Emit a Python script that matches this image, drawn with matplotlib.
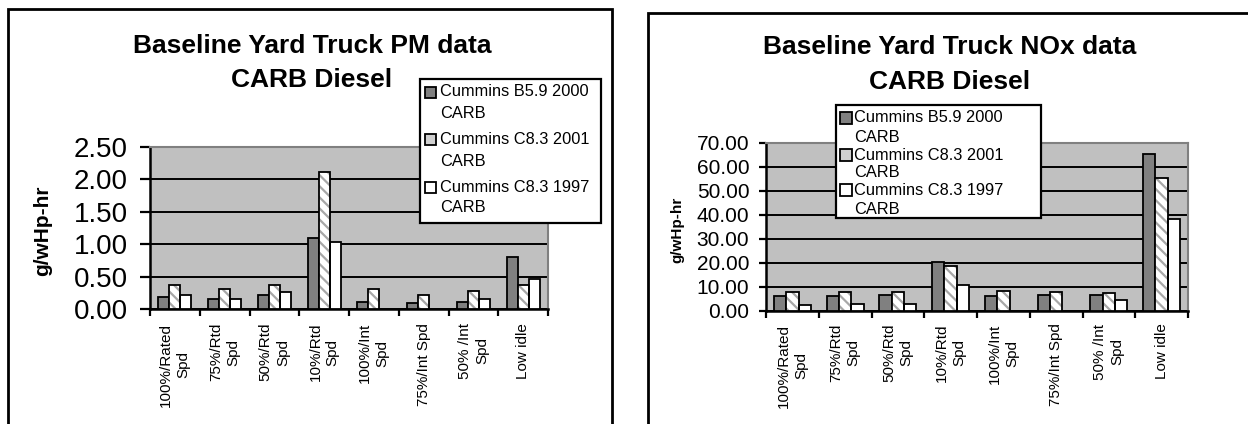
import matplotlib.pyplot as plt
import numpy as np
from matplotlib.patches import Rectangle

plt.rcParams['font.family'] = ['Liberation Sans', 'DejaVu Sans']
plt.rcParams['hatch.linewidth'] = 1.6

# ~~~~~~~~~~~~~~
# DATA
# ~~~~~~~~~~~~~~
categories = ['100%/Rated\nSpd', '75%/Rtd\nSpd', '50%/Rtd\nSpd', '10%/Rtd\nSpd',
              '100%/Int\nSpd', '75%/Int Spd', '50% /Int\nSpd', 'Low idle']
series = ['Cummins B5.9 2000', 'Cummins C8.3 2001', 'Cummins C8.3 1997']
series_line2 = 'CARB'

pm_b59_2000 = [0.19, 0.15, 0.21, 1.10, 0.11, 0.09, 0.11, 0.81]
pm_c83_2001 = [0.37, 0.31, 0.37, 2.12, 0.31, 0.22, 0.28, 0.37]
pm_c83_1997 = [0.21, 0.16, 0.27, 1.04, np.nan, np.nan, 0.16, 0.46]

nox_b59_2000 = [6.4, 6.4, 6.7, 20.6, 6.4, 6.7, 6.7, 65.6]
nox_c83_2001 = [7.9, 7.9, 7.9, 18.9, 8.3, 7.9, 7.5, 55.4]
nox_c83_1997 = [2.5, 3.1, 3.1, 11.0, np.nan, np.nan, 4.7, 38.3]

key_colors = ['#808080', '#D0D0D0', 'white']

W, H = 1248, 424


def px(x0, y0, x1, y1):
    # pixel box (top-left origin) -> figure fraction rect
    return [x0 / W, 1 - y1 / H, (x1 - x0) / W, (y1 - y0) / H]


def draw_chart(ax, a, b, c, ymax, ystep, w, tick_fs, ytick_len, xlab_pad, ylab_pad):
    x = np.arange(len(categories))
    ax.set_facecolor('#C0C0C0')
    ax.bar(x - w, a, w, color='#808080', edgecolor='black', lw=1.3, zorder=3)
    ax.bar(x, b, w, facecolor='white', edgecolor='#A8A8A8', hatch='\\\\\\', lw=0, zorder=3)
    ax.bar(x, b, w, fill=False, edgecolor='black', lw=1.3, zorder=4)
    ax.bar(x + w, c, w, color='white', edgecolor='black', lw=1.3, zorder=3)

    ax.set_xlim(-0.5, len(categories) - 0.5)
    ax.set_ylim(0, ymax)
    yt = np.arange(0, ymax + ystep / 2, ystep)
    ax.set_yticks(yt)
    ax.set_yticklabels(['%.2f' % v for v in yt], fontsize=tick_fs)
    ax.yaxis.grid(True, color='black', lw=1.4)
    ax.set_axisbelow(True)

    ax.set_xticks(x)
    ax.set_xticklabels(categories, rotation=90, va='top', ha='center',
                       multialignment='center', fontsize=11, linespacing=1.3)
    ax.set_xticks(np.arange(-0.5, len(categories), 1), minor=True)
    ax.tick_params(axis='x', which='major', length=0, pad=xlab_pad)
    ax.tick_params(axis='x', which='minor', length=5, width=1.6, direction='out')
    ax.tick_params(axis='y', length=ytick_len, width=1.6, direction='out', pad=ylab_pad)

    for s in ['top', 'right']:
        ax.spines[s].set_color('#808080')
        ax.spines[s].set_linewidth(1.5)
    for s in ['left', 'bottom']:
        ax.spines[s].set_color('black')
        ax.spines[s].set_linewidth(1.8)


def add_legend(fig, box, key_x, key_size, text_x, line_ys, fs):
    x0, y0, x1, y1 = box
    fig.add_artist(Rectangle((x0 / W, 1 - y1 / H), (x1 - x0) / W, (y1 - y0) / H,
                             transform=fig.transFigure, facecolor='white',
                             edgecolor='black', lw=1.6, zorder=2))
    for i, name in enumerate(series):
        y_a = line_ys[2 * i]
        y_b = line_ys[2 * i + 1]
        fig.add_artist(Rectangle((key_x / W, 1 - (y_a + key_size / 2) / H),
                                 key_size / W, key_size / H, transform=fig.transFigure,
                                 facecolor=key_colors[i], edgecolor='black', lw=1.3, zorder=3))
        fig.text(text_x / W, 1 - y_a / H, name, ha='left', va='center', fontsize=fs, zorder=3)
        fig.text(text_x / W, 1 - y_b / H, series_line2, ha='left', va='center', fontsize=fs, zorder=3)


fig = plt.figure(figsize=(W / 100, H / 100), dpi=100)

# panel borders
fig.add_artist(Rectangle((8 / W, -0.05), 604 / W, 1.05 - 9 / H, transform=fig.transFigure,
                         fill=False, edgecolor='black', lw=2))
fig.add_artist(Rectangle((648 / W, -0.05), 620 / W, 1.05 - 13 / H, transform=fig.transFigure,
                         fill=False, edgecolor='black', lw=2, clip_on=False))

# ~~~~~~~~~~
# PM chart
# ~~~~~~~~~~
ax1 = fig.add_axes(px(150, 147, 548, 309))
draw_chart(ax1, pm_b59_2000, pm_c83_2001, pm_c83_1997, 2.5, 0.5, 0.222, 20, 7, 10, 9)
fig.text(312 / W, 1 - 53 / H, 'Baseline Yard Truck PM data', ha='center', va='baseline',
         fontsize=19, weight='bold')
fig.text(312 / W, 1 - 87 / H, 'CARB Diesel', ha='center', va='baseline',
         fontsize=19, weight='bold')
fig.text(43 / W, 1 - 231 / H, 'g/wHp-hr', rotation=90, ha='center', va='center',
         fontsize=15, weight='bold')
add_legend(fig, (420, 79, 601, 223), 425, 11, 440, [92, 113, 139, 162, 187, 208], 11.8)

# ~~~~~~~~~~
# NOx chart
# ~~~~~~~~~~
ax2 = fig.add_axes(px(766, 143, 1188, 311))
draw_chart(ax2, nox_b59_2000, nox_c83_2001, nox_c83_1997, 70, 10, 0.233, 15, 5, 9, 7)
fig.text(950 / W, 1 - 54 / H, 'Baseline Yard Truck NOx data', ha='center', va='baseline',
         fontsize=19, weight='bold')
fig.text(950 / W, 1 - 89 / H, 'CARB Diesel', ha='center', va='baseline',
         fontsize=19, weight='bold')
fig.text(677 / W, 1 - 230 / H, 'g/wHp-hr', rotation=90, ha='center', va='center',
         fontsize=11, weight='bold')
add_legend(fig, (836, 105, 1041, 218), 840, 12, 854, [118, 137, 155, 173, 190, 209], 11.8)

plt.savefig('out.png', dpi=100)
